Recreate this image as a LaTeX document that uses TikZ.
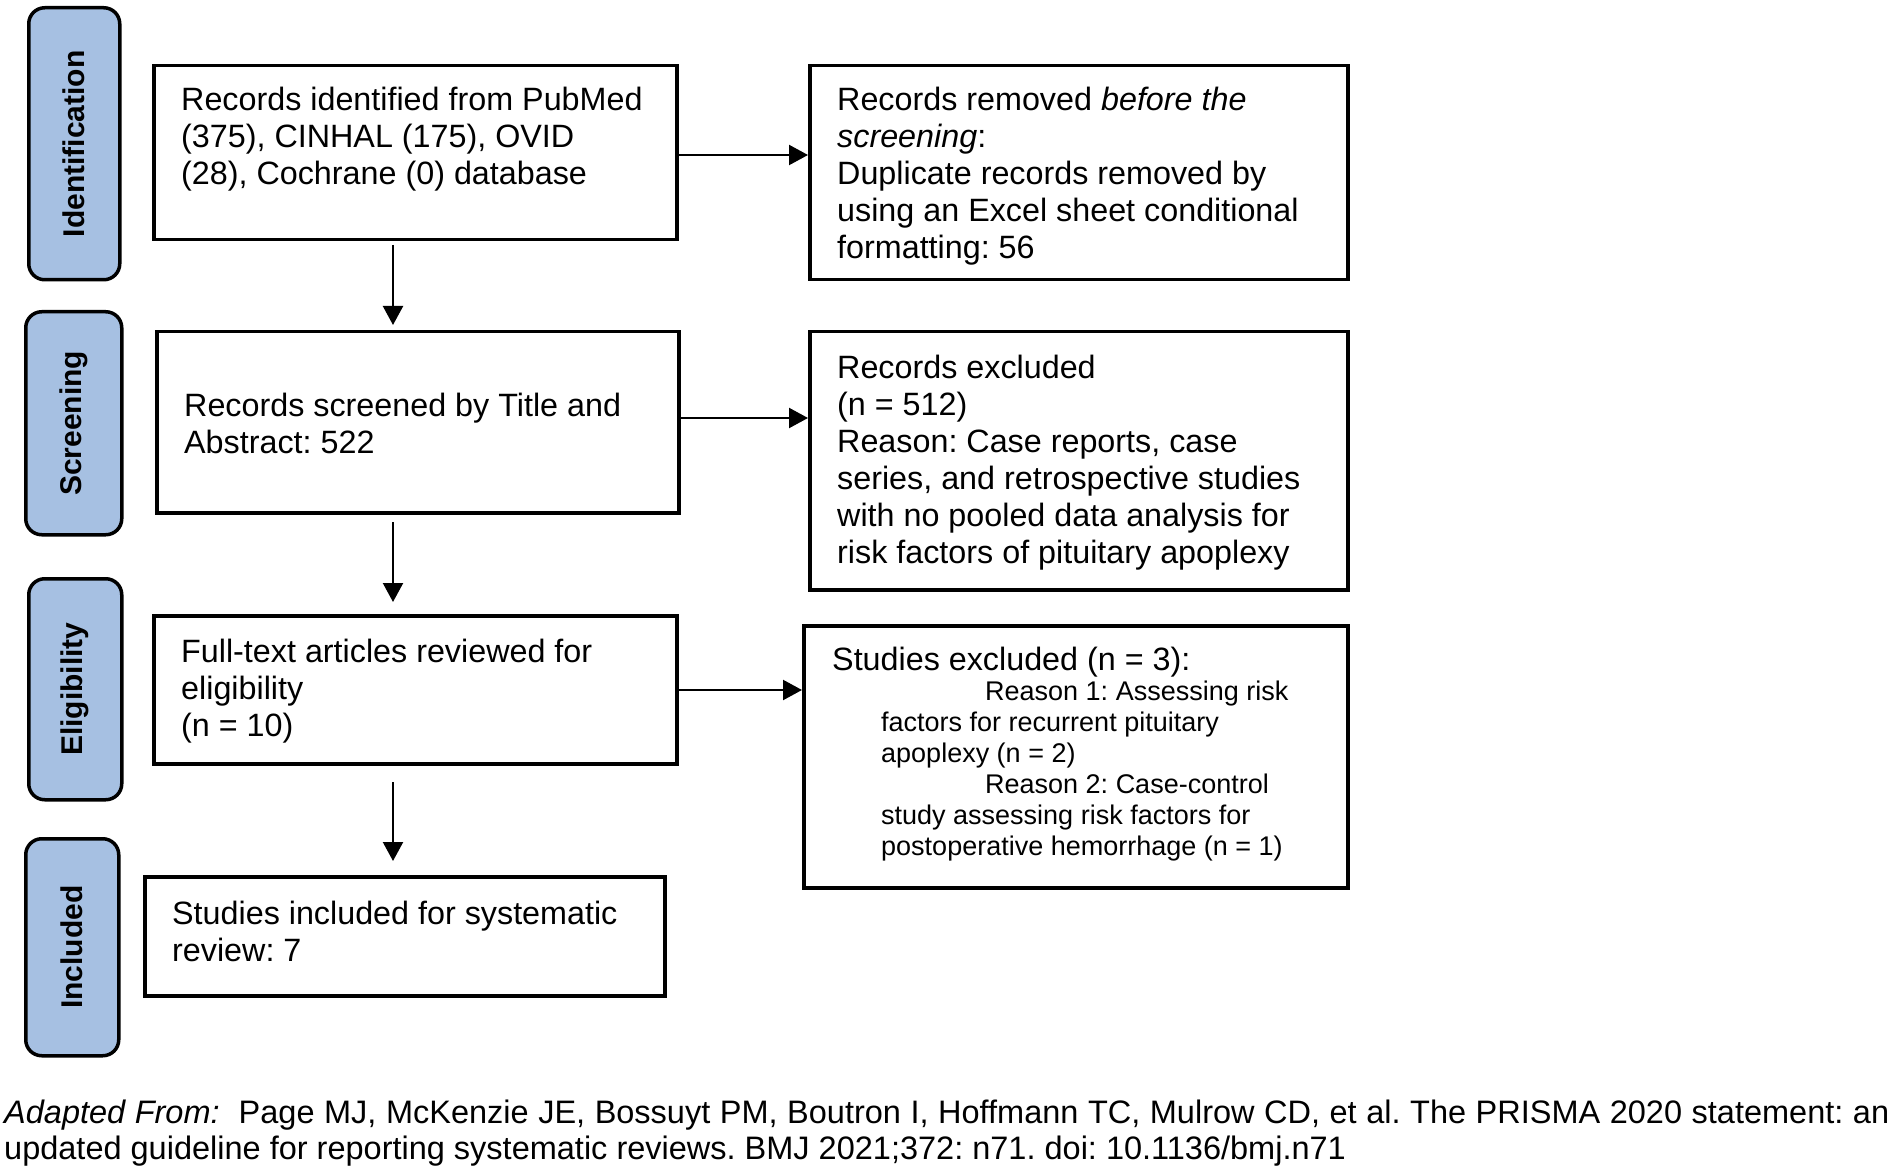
\documentclass[tikz,border=0pt]{standalone}
\usepackage{fontspec}
\setmainfont{Liberation Sans}
\usetikzlibrary{arrows.meta}
\definecolor{pillblue}{RGB}{166,192,226}
\frenchspacing
\tikzset{
  box/.style={draw=black, line width=3.5pt, fill=white, inner sep=0pt, anchor=north west},
  pill/.style={draw=black, line width=3.5pt, fill=pillblue, rounded corners=16pt, inner sep=0pt, anchor=north west},
  pilltext/.style={rotate=90, font=\fontsize{30}{34}\selectfont\bfseries, inner sep=0pt},
  txt/.style={anchor=north west, inner sep=0pt, align=left, font=\fontsize{32.3}{37}\selectfont},
  smalltxt/.style={anchor=north west, inner sep=0pt, align=left, font=\fontsize{27}{31}\selectfont},
  foot/.style={anchor=north west, inner sep=0pt, align=left, font=\fontsize{32.5}{36}\selectfont},
  arr/.style={line width=2.2pt, -{Triangle[length=19pt,width=20pt]}}
}
\begin{document}
\begin{tikzpicture}[x=1pt,y=-1pt]
\useasboundingbox (0,0) rectangle (1896,1174);
% phase pills
\node[pill, minimum width=91, minimum height=272] (p1) at (27,6) {};
\node[pilltext] at (p1.center) {Identification};
\node[pill, minimum width=96, minimum height=223] (p2) at (24,310) {};
\node[pilltext] at (p2.center) {Screening};
\node[pill, minimum width=93, minimum height=221] (p3) at (27,577) {};
\node[pilltext] at (p3.center) {Eligibility};
\node[pill, minimum width=93, minimum height=217] (p4) at (24,837) {};
\node[pilltext] at (p4.center) {Included};
% boxes
\node[box, minimum width=523, minimum height=174] (b1) at (152,64) {};
\node[txt] (t1) at (181,87) {Records identified from PubMed\\(375), CINHAL (175), OVID\\(28), Cochrane (0) database};
\node[box, minimum width=538, minimum height=214] (b2) at (808,64) {};
\node[txt] (t2) at (837,87) {Records removed \textit{before the}\\\textit{screening}:\\Duplicate records removed by\\using an Excel sheet conditional\\formatting: 56};
\node[box, minimum width=522, minimum height=181] (b3) at (155,330) {};
\node[txt] (t3) at (184,393) {Records screened by Title and\\Abstract: 522};
\node[box, minimum width=538, minimum height=258] (b4) at (808,330) {};
\node[txt] (t4) at (837,355) {Records excluded\\(n = 512)\\Reason: Case reports, case\\series, and retrospective studies\\with no pooled data analysis for\\risk factors of pituitary apoplexy};
\node[box, minimum width=523, minimum height=148] (b5) at (152,614) {};
\node[txt] (t5) at (181,639) {Full-text articles reviewed for\\eligibility\\(n = 10)};
\node[box, minimum width=544, minimum height=262] (b6) at (802,624) {};
\node[txt] (t6) at (832,647) {Studies excluded (n = 3):};
\node[smalltxt] (t6b) at (881,681) {\hspace*{104pt}Reason 1: Assessing risk\\factors for recurrent pituitary\\apoplexy (n = 2)\\\hspace*{104pt}Reason 2: Case-control\\study assessing risk factors for\\postoperative hemorrhage (n = 1)};
\node[box, minimum width=520, minimum height=119] (b7) at (143,875) {};
\node[txt] (t7) at (172,901) {Studies included for systematic\\review: 7};
% connectors
\coordinate (d1s) at (393,245);
\coordinate (d1e) at (393,325);
\coordinate (d2s) at (393,522);
\coordinate (d2e) at (393,602);
\coordinate (d3s) at (393,782);
\coordinate (d3e) at (393,861);
\draw[arr] (d1s) -- (d1e);
\draw[arr] (d2s) -- (d2e);
\draw[arr] (d3s) -- (d3e);
\draw[arr] (b1.east |- 0,155) -- (b2.west |- 0,155);
\draw[arr] (b3.east |- 0,418) -- (b4.west |- 0,418);
\draw[arr] (b5.east |- 0,690) -- (b6.west |- 0,690);
% footnote
\node[foot] (f1) at (4,1100) {\makebox[1885pt][s]{\textit{Adapted From:}\ \ Page MJ, McKenzie JE, Bossuyt PM, Boutron I, Hoffmann TC, Mulrow CD, et al. The PRISMA 2020 statement: an}\\updated guideline for reporting systematic reviews. BMJ 2021;372: n71. doi: 10.1136/bmj.n71};
\end{tikzpicture}
\end{document}
